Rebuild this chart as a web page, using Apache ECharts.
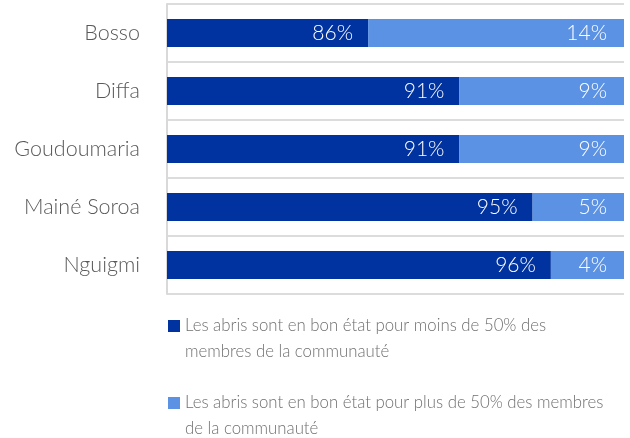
<!DOCTYPE html>
<html>
<head>
<meta charset="utf-8">
<script src="https://cdn.jsdelivr.net/npm/echarts@6/dist/echarts.min.js"></script>
<style>
  html, body { margin: 0; padding: 0; background: #fff; }
  #chart { width: 630px; height: 438px; }
</style>
</head>
<body>
<div id="chart"></div>
<script>
// communes (top to bottom)
var communes = ['Bosso', 'Diffa', 'Goudoumaria', 'Mainé Soroa', 'Nguigmi']
// % of sites
var moins50 = [86, 91, 91, 95, 96]
var plus50 = [14, 9, 9, 5, 4]
var seriesNames = [
  'Les abris sont en bon état pour moins de 50% des membres de la communauté',
  'Les abris sont en bon état pour plus de 50% des membres de la communauté'
]
// how the legend text wraps in the original
var legendLines = [
  'Les abris sont en bon état pour moins de 50% des\nmembres de la communauté',
  'Les abris sont en bon état pour plus de 50% des membres\nde la communauté'
]

var FONT = 'Lato, "Open Sans", sans-serif'
var chart = echarts.init(document.getElementById('chart'))

function legendFor(i, top) {
  return {
    data: [seriesNames[i]],
    left: 168,
    top: top,
    padding: 0,
    itemWidth: 12,
    itemHeight: 12,
    itemGap: 0,
    icon: 'rect',
    selectedMode: false,
    // empty first line so the square sits next to the first text line
    formatter: function () { return '\n' + legendLines[i] },
    textStyle: {
      color: '#707070',
      fontFamily: FONT,
      fontWeight: 300,
      fontSize: 16.8,
      lineHeight: 26
    }
  }
}

chart.setOption({
  animation: false,
  grid: { left: 167, right: 6, top: 4, height: 290 },
  legend: [legendFor(0, 287), legendFor(1, 364)],
  xAxis: {
    type: 'value',
    min: 75,
    max: 100,
    show: false
  },
  yAxis: {
    type: 'category',
    data: communes,
    inverse: true,
    axisTick: { show: false },
    axisLine: { show: true, lineStyle: { color: '#d9d9d9', width: 2 } },
    splitLine: { show: true, lineStyle: { color: '#dcdcdc', width: 2 } },
    axisLabel: {
      color: '#595959',
      fontFamily: FONT,
      fontWeight: 300,
      fontSize: 21.5,
      margin: 27
    }
  },
  series: [
    {
      name: seriesNames[0],
      type: 'bar',
      stack: 'total',
      barWidth: 28,
      clip: true,
      itemStyle: { color: '#0033a0' },
      label: {
        show: true,
        position: 'insideRight',
        distance: 15,
        color: '#fff',
        fontFamily: FONT,
        fontWeight: 300,
        fontSize: 21,
        formatter: '{c}%'
      },
      data: moins50
    },
    {
      name: seriesNames[1],
      type: 'bar',
      stack: 'total',
      barWidth: 28,
      clip: true,
      itemStyle: { color: '#5b92e3' },
      label: {
        show: true,
        position: 'insideRight',
        distance: 17,
        color: '#fff',
        fontFamily: FONT,
        fontWeight: 300,
        fontSize: 21,
        formatter: '{c}%'
      },
      data: plus50
    }
  ]
})
</script>
</body>
</html>
